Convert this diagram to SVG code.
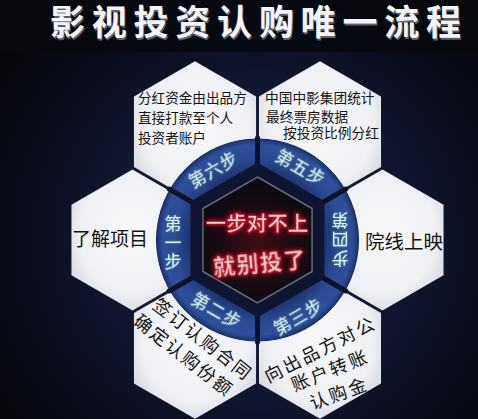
<svg xmlns="http://www.w3.org/2000/svg" width="478" height="419" viewBox="0 0 478 419">
  <defs>
    <radialGradient id="bg" cx="257" cy="240" r="300" gradientUnits="userSpaceOnUse">
      <stop offset="0" stop-color="#1c2444"/>
      <stop offset="0.5" stop-color="#111630"/>
      <stop offset="1" stop-color="#06070d"/>
    </radialGradient>
    <radialGradient id="hexFill" cx="50%" cy="45%" r="62%">
      <stop offset="0" stop-color="#f8f8fa"/>
      <stop offset="0.7" stop-color="#eef0f3"/>
      <stop offset="1" stop-color="#d2d5dc"/>
    </radialGradient>
    <radialGradient id="ringGrad" cx="257.5" cy="240" r="101" gradientUnits="userSpaceOnUse">
      <stop offset="0" stop-color="#0e1838"/>
      <stop offset="0.62" stop-color="#18306a"/>
      <stop offset="0.82" stop-color="#2a4a92"/>
      <stop offset="0.94" stop-color="#2d4f9a"/>
      <stop offset="1" stop-color="#1c336e"/>
    </radialGradient>
    <radialGradient id="coreGrad" cx="257.5" cy="245" r="63" gradientUnits="userSpaceOnUse">
      <stop offset="0" stop-color="#420b16"/>
      <stop offset="0.55" stop-color="#1c0c14"/>
      <stop offset="1" stop-color="#0b0a10"/>
    </radialGradient>
    <filter id="redGlow" x="-20%" y="-60%" width="140%" height="220%">
      <feGaussianBlur in="SourceAlpha" stdDeviation="2" result="b"/>
      <feFlood flood-color="#d8102a"/>
      <feComposite in2="b" operator="in" result="g"/>
      <feMerge><feMergeNode in="g"/><feMergeNode in="g"/><feMergeNode in="SourceGraphic"/></feMerge>
    </filter>
    <filter id="cyanGlow" x="-30%" y="-30%" width="160%" height="160%">
      <feGaussianBlur in="SourceAlpha" stdDeviation="1.2" result="b"/>
      <feFlood flood-color="#6fd6d0" flood-opacity="0.7"/>
      <feComposite in2="b" operator="in" result="g"/>
      <feMerge><feMergeNode in="g"/><feMergeNode in="SourceGraphic"/></feMerge>
    </filter>
    <path id="hex" d="M0,-70.5 L61.05,-35.25 L61.05,35.25 L0,70.5 L-61.05,35.25 L-61.05,-35.25 Z"/>
    <style>
      .cjk { font-family: "Noto Sans CJK SC", "Noto Sans", sans-serif; }
      .hx { fill: url(#hexFill); }
      .t { fill: #141414; font-family: "Noto Sans CJK SC", sans-serif; }
      .lbl { fill: #e2f6f2; font-family: "Noto Sans CJK SC", sans-serif; font-size: 17px; filter: url(#cyanGlow); }
      .vert { writing-mode: vertical-rl; }
      .core { fill: #ecd2d6; stroke: #b3101f; stroke-width: 0.6; font-family: "Noto Sans CJK SC", sans-serif; font-weight: 700; filter: url(#redGlow); }
      .div { stroke: #0c1228; stroke-width: 5; stroke-linecap: round; }
    </style>
  </defs>

  <rect width="478" height="419" fill="url(#bg)"/>
  <rect width="478" height="52" fill="#07080d" opacity="0.7"/>

  <g id="title">
    <text x="51" y="36.5" class="cjk" font-size="35" font-weight="700" fill="#5c5f6a" textLength="411" lengthAdjust="spacing">影视投资认购唯一流程</text>
    <text x="50" y="35" class="cjk" font-size="35" font-weight="700" fill="#f4f4f6" textLength="411" lengthAdjust="spacing">影视投资认购唯一流程</text>
  </g>

  <g id="node-topleft" transform="translate(195,131.75)">
    <use href="#hex" class="hx"/>
  </g>
  <g id="node-topright" transform="translate(320,131.75)">
    <use href="#hex" class="hx"/>
  </g>
  <g id="node-left" transform="translate(132.5,240)">
    <use href="#hex" class="hx"/>
  </g>
  <g id="node-right" transform="translate(382.5,240)">
    <use href="#hex" class="hx"/>
  </g>
  <g id="node-bottomleft" transform="translate(195,348.25)">
    <use href="#hex" class="hx"/>
  </g>
  <g id="node-bottomright" transform="translate(320,348.25)">
    <use href="#hex" class="hx"/>
  </g>

  <g id="node-texts">
    <text id="text-topleft" class="t" font-size="13.6">
      <tspan x="138" y="102.5">分红资金由出品方</tspan>
      <tspan x="138" y="122.5">直接打款至个人</tspan>
      <tspan x="138" y="142.5">投资者账户</tspan>
    </text>
    <text id="text-topright" class="t" font-size="13.7">
      <tspan x="265" y="103">中国中影集团统计</tspan>
      <tspan x="266" y="122">最终票房数据</tspan>
      <tspan x="283" y="137.5">按投资比例分红</tspan>
    </text>
    <text id="text-left" class="t" x="72" y="245.5" font-size="19">了解项目</text>
    <text id="text-right" class="t" x="365" y="249" font-size="19.5">院线上映</text>
    <g id="text-bottomleft" class="t" font-size="18" letter-spacing="2" text-anchor="middle">
      <text transform="translate(203,339) rotate(38)" y="7">签订认购合同</text>
      <text transform="translate(184,355) rotate(38)" y="7">确定认购份额</text>
    </g>
    <g id="text-bottomright" class="t" font-size="18" letter-spacing="2.5" text-anchor="middle">
      <text transform="translate(320,349) rotate(-27)" y="7">向出品方对公</text>
      <text transform="translate(330,370) rotate(-22)" y="7">账户转账</text>
      <text transform="translate(339,393) rotate(-20)" y="7">认购金</text>
    </g>
  </g>

  <g id="hub">
    <circle cx="257.5" cy="240" r="101" fill="url(#ringGrad)" stroke="#16285a" stroke-width="1"/>
    <g id="dividers" class="div">
      <line x1="313.8" y1="272.5" x2="345.8" y2="291"/>
      <line x1="257.5" y1="305" x2="257.5" y2="342"/>
      <line x1="201.2" y1="272.5" x2="169.2" y2="291"/>
      <line x1="201.2" y1="207.5" x2="169.2" y2="189"/>
      <line x1="257.5" y1="175" x2="257.5" y2="138"/>
      <line x1="313.8" y1="207.5" x2="345.8" y2="189"/>
    </g>
    <path d="M257.5,165 L322.45,202.5 L322.45,277.5 L257.5,315 L192.55,277.5 L192.55,202.5 Z" fill="#0f1530" stroke="#0f1530" stroke-width="4" stroke-linejoin="round"/>
    <path d="M257.5,177 L312.06,208.5 L312.06,271.5 L257.5,303 L202.94,271.5 L202.94,208.5 Z" fill="url(#coreGrad)" stroke="#666b78" stroke-width="1.5"/>

    <text id="step1" class="lbl vert" x="173" y="244" text-anchor="middle" letter-spacing="2">第一步</text>
    <text id="step4" class="lbl" x="348.5 348.5 348.5" y="213.5 232.5 251.5" rotate="180">第四步</text>
    <text id="step6" class="lbl" text-anchor="middle" letter-spacing="1" transform="translate(213,169) rotate(-30)" y="6.5">第六步</text>
    <text id="step5" class="lbl" text-anchor="middle" letter-spacing="1" transform="translate(301,167) rotate(30)" y="6.5">第五步</text>
    <text id="step2" class="lbl" text-anchor="middle" letter-spacing="1" transform="translate(217,310) rotate(30)" y="6.5">第二步</text>
    <text id="step3" class="lbl" text-anchor="middle" letter-spacing="1" transform="translate(298,316) rotate(-30)" y="6.5">第三步</text>

    <text class="core" x="257" y="231" font-size="20.5" text-anchor="middle">一步对不上</text>
    <text class="core" font-size="22" text-anchor="middle" letter-spacing="1.5" transform="translate(260,263) rotate(-5)" y="8">就别投了</text>
  </g>
</svg>
